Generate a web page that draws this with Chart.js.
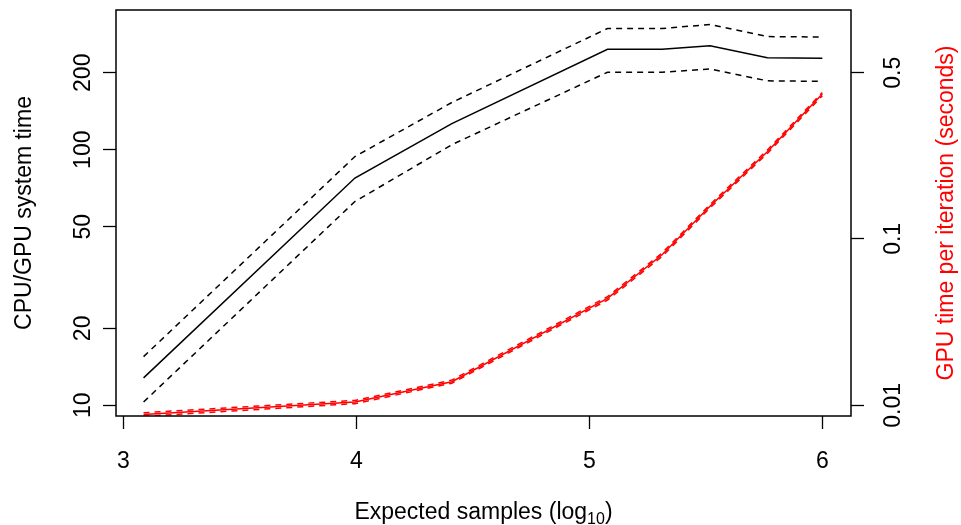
<!DOCTYPE html>
<html>
<head>
<meta charset="utf-8">
<script src="https://cdn.jsdelivr.net/npm/chart.js@4.4.1/dist/chart.umd.min.js"></script>
<style>
html, body { margin: 0; padding: 0; background: #fff; }
#wrap { width: 961px; height: 525px; }
</style>
</head>
<body>
<div id="wrap"><canvas id="c"></canvas></div>
<script>
// x = expected samples (log10)
const samplesLog10 = [3.087, 3.994, 4.41, 5.078, 5.312, 5.518, 5.764, 6.0];

// CPU/GPU system time (black): mean and dashed bounds
const ratioMean  = [12.8, 77.5, 126.5, 247, 247, 255, 229, 228];
const ratioUpper = [15.5, 94, 153, 298, 298, 309, 277, 276];
const ratioLower = [10.3, 62.7, 104.6, 201, 201, 207, 186, 185];

// GPU time per iteration (red), in left-axis units
const gpuMean  = [9.2, 10.3, 12.37, 26.2, 38.8, 60.1, 98.2, 165];
const gpuUpper = [9.35, 10.45, 12.55, 26.6, 39.4, 61.0, 99.7, 167.5];
const gpuLower = [9.05, 10.15, 12.2, 25.8, 38.2, 59.2, 96.7, 162.5];

// ticks
const xTicks = [3, 4, 5, 6];
const leftTicks = [10, 20, 50, 100, 200];
const rightTickPos = [10, 44.8, 200];
const rightTickLabels = ['0.01', '0.1', '0.5'];

const FONT = "'Liberation Sans', Arial, Helvetica, sans-serif";
const FS = 23;

function pts(ys) {
    return samplesLog10.map((x, i) => ({ x: x, y: ys[i] }));
}

function line(label, ys, color, dashed) {
    return {
        label: label,
        data: pts(ys),
        borderColor: color,
        backgroundColor: color,
        borderWidth: 1.5,
        borderDash: dashed ? [6, 5] : [],
        pointRadius: 0,
        tension: 0,
        fill: false,
        yAxisID: 'y'
    };
}

// R-like frame, rotated tick labels and axis titles
const rStyle = {
    id: 'rStyle',
    afterDraw(chart) {
        const ctx = chart.ctx;
        const a = chart.chartArea;
        ctx.save();
        ctx.strokeStyle = '#000';
        ctx.lineWidth = 1.5;
        ctx.strokeRect(a.left, a.top, a.right - a.left, a.bottom - a.top);

        ctx.fillStyle = '#000';
        ctx.font = FS + 'px ' + FONT;
        ctx.textAlign = 'center';
        ctx.textBaseline = 'middle';

        const ys = chart.scales.y;
        ys.ticks.forEach(t => {
            const py = ys.getPixelForValue(t.value);
            ctx.save();
            ctx.translate(84, py);
            ctx.rotate(-Math.PI / 2);
            ctx.fillText(String(t.value), 0, 0);
            ctx.restore();
        });

        const yr = chart.scales.y2;
        yr.ticks.forEach((t, i) => {
            const py = yr.getPixelForValue(t.value);
            ctx.save();
            ctx.translate(894, py);
            ctx.rotate(-Math.PI / 2);
            ctx.fillText(rightTickLabels[i], 0, 0);
            ctx.restore();
        });

        const cy = (a.top + a.bottom) / 2;
        ctx.save();
        ctx.translate(25, cy);
        ctx.rotate(-Math.PI / 2);
        ctx.fillText('CPU/GPU system time', 0, 0);
        ctx.restore();

        ctx.save();
        ctx.fillStyle = '#ff0000';
        ctx.translate(947, cy);
        ctx.rotate(-Math.PI / 2);
        ctx.fillText('GPU time per iteration (seconds)', 0, 0);
        ctx.restore();

        // x title with subscript
        const main = 'Expected samples (log';
        const sub = '10';
        const close = ')';
        ctx.textAlign = 'left';
        ctx.textBaseline = 'alphabetic';
        ctx.font = FS + 'px ' + FONT;
        const wMain = ctx.measureText(main).width;
        const wClose = ctx.measureText(close).width;
        ctx.font = '16px ' + FONT;
        const wSub = ctx.measureText(sub).width;
        const total = wMain + wSub + wClose;
        let x0 = (a.left + a.right) / 2 - total / 2;
        const base = 519;
        ctx.font = FS + 'px ' + FONT;
        ctx.fillText(main, x0, base);
        ctx.font = '16px ' + FONT;
        ctx.fillText(sub, x0 + wMain, base + 5);
        ctx.font = FS + 'px ' + FONT;
        ctx.fillText(close, x0 + wMain + wSub, base);
        ctx.restore();
    }
};

const tickGrid = {
    display: true,
    drawOnChartArea: false,
    drawTicks: true,
    tickLength: 13,
    tickWidth: 1.3,
    color: '#000'
};

new Chart(document.getElementById('c').getContext('2d'), {
    type: 'line',
    data: {
        datasets: [
            line('CPU/GPU', ratioMean, '#000000', false),
            line('CPU/GPU upper', ratioUpper, '#000000', true),
            line('CPU/GPU lower', ratioLower, '#000000', true),
            line('GPU', gpuMean, '#ff0000', false),
            line('GPU upper', gpuUpper, '#ff0000', true),
            line('GPU lower', gpuLower, '#ff0000', true)
        ]
    },
    options: {
        responsive: true,
        maintainAspectRatio: false,
        animation: false,
        layout: { padding: { top: 10, left: 0, right: 0, bottom: 0 } },
        plugins: {
            legend: { display: false },
            tooltip: { enabled: false }
        },
        scales: {
            x: {
                type: 'linear',
                min: 2.9687,
                max: 6.123,
                afterBuildTicks: s => { s.ticks = xTicks.map(v => ({ value: v })); },
                afterFit: s => { s.height = 109; },
                border: { display: false },
                grid: tickGrid,
                ticks: {
                    color: '#000',
                    font: { family: FONT, size: FS },
                    padding: 19,
                    maxRotation: 0,
                    callback: v => String(v)
                }
            },
            y: {
                type: 'logarithmic',
                position: 'left',
                min: 9.08,
                max: 352,
                afterBuildTicks: s => { s.ticks = leftTicks.map(v => ({ value: v })); },
                afterFit: s => { s.width = 116; },
                border: { display: false },
                grid: tickGrid,
                ticks: { display: false }
            },
            y2: {
                type: 'logarithmic',
                position: 'right',
                min: 9.08,
                max: 352,
                afterBuildTicks: s => { s.ticks = rightTickPos.map(v => ({ value: v })); },
                afterFit: s => { s.width = 110; },
                border: { display: false },
                grid: tickGrid,
                ticks: { display: false }
            }
        }
    },
    plugins: [rStyle]
});
</script>
</body>
</html>
